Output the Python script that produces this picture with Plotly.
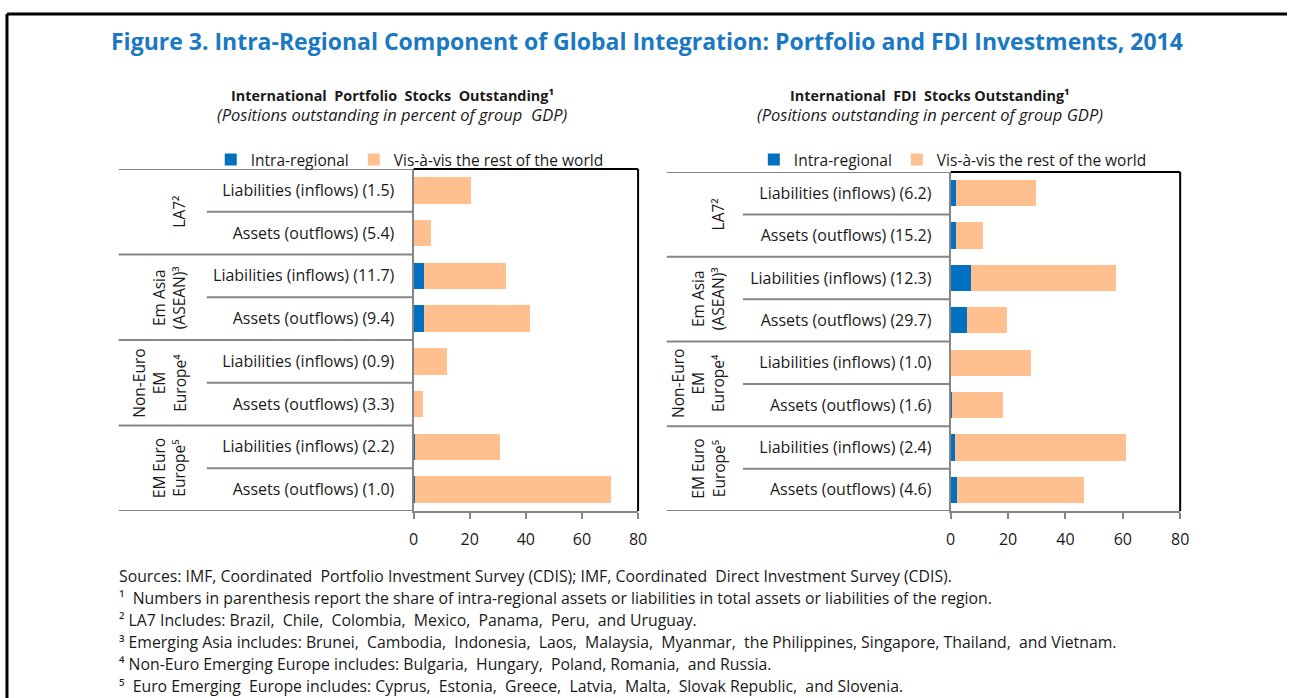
import plotly.graph_objects as go

W, H = 1296, 698
def px(x): return x / W
def py(y): return 1 - y / H

# ---------------- data ----------------
left_categories = [
    "Liabilities (inflows) (1.5)", "Assets (outflows) (5.4)",
    "Liabilities (inflows) (11.7)", "Assets (outflows) (9.4)",
    "Liabilities (inflows) (0.9)", "Assets (outflows) (3.3)",
    "Liabilities (inflows) (2.2)", "Assets (outflows) (1.0)",
]
left_intra = [0.3, 0.33, 3.9, 3.9, 0.1, 0.11, 0.68, 0.7]
left_rest = [20.0, 5.9, 29.1, 37.5, 11.7, 3.3, 30.1, 69.6]

right_categories = [
    "Liabilities (inflows) (6.2)", "Assets (outflows) (15.2)",
    "Liabilities (inflows) (12.3)", "Assets (outflows) (29.7)",
    "Liabilities (inflows) (1.0)", "Assets (outflows) (1.6)",
    "Liabilities (inflows) (2.4)", "Assets (outflows) (4.6)",
]
right_intra = [1.85, 1.72, 7.1, 5.8, 0.28, 0.29, 1.47, 2.13]
right_rest = [28.0, 9.6, 50.5, 13.8, 27.7, 17.9, 59.6, 44.3]

group_labels = ["LA7²", "Em Asia<br>(ASEAN)³", "Non-Euro<br>EM<br>Europe⁴", "EM Euro<br>Europe⁵"]
series_names = ["Intra-regional", "Vis-à-vis the rest of the world"]
x_ticks = [0, 20, 40, 60, 80]

title = "Figure 3. Intra-Regional Component of Global Integration: Portfolio and FDI Investments, 2014"
left_title = "International  Portfolio  Stocks  Outstanding¹"
right_title = "International  FDI  Stocks Outstanding¹"
left_sub = "(Positions outstanding in percent of group  GDP)"
right_sub = "(Positions outstanding in percent of group GDP)"
footnotes = [
    "Sources: IMF, Coordinated  Portfolio Investment Survey (CDIS); IMF, Coordinated  Direct Investment Survey (CDIS).",
    "¹  Numbers in parenthesis report the share of intra-regional assets or liabilities in total assets or liabilities of the region.",
    "² LA7 Includes: Brazil,  Chile,  Colombia,  Mexico,  Panama,  Peru,  and Uruguay.",
    "³ Emerging Asia includes: Brunei,  Cambodia,  Indonesia,  Laos,  Malaysia,  Myanmar,  the Philippines, Singapore, Thailand,  and Vietnam.",
    "⁴ Non-Euro Emerging Europe includes: Bulgaria,  Hungary,  Poland, Romania,  and Russia.",
    "⁵  Euro Emerging  Europe includes: Cyprus,  Estonia,  Greece,  Latvia,  Malta,  Slovak Republic,  and Slovenia.",
]

# ---------------- style ----------------
FONT = "'Open Sans', Lato, sans-serif"
BLUE = "#0070C0"
ORANGE = "#FFBF8F"
GRAY = "#868686"
TXT = "#1a1a1a"
LBL = 16
LEG = 15.5

fig = go.Figure()

panels = [
    dict(cats=left_categories, intra=left_intra, rest=left_rest, xa="x", ya="y",
         legend="legend", x0=413, x1=640, top=169, bot=511, long_x=115, short_x=204,
         grp_x=189, title_x=392, title=left_title, sub=left_sub, leg_x=208),
    dict(cats=right_categories, intra=right_intra, rest=right_rest, xa="x2", ya="y2",
         legend="legend2", x0=956, x1=1188, top=172, bot=511, long_x=669, short_x=746,
         grp_x=734, title_x=935, title=right_title, sub=right_sub, leg_x=757),
]

shapes = []
annotations = []

for i, p in enumerate(panels):
    fig.add_trace(go.Bar(y=p["cats"], x=p["intra"], orientation="h", name=series_names[0],
                         marker=dict(color=BLUE, line=dict(width=0)),
                         xaxis=p["xa"], yaxis=p["ya"], legend=p["legend"]))
    fig.add_trace(go.Bar(y=p["cats"], x=p["rest"], orientation="h", name=series_names[1],
                         marker=dict(color=ORANGE, line=dict(width=0)),
                         xaxis=p["xa"], yaxis=p["ya"], legend=p["legend"]))
    sfx = "" if i == 0 else "2"
    fig.update_layout(**{
        "xaxis" + sfx: dict(domain=[px(p["x0"]), px(p["x1"])], range=[0, 80], tickvals=x_ticks,
                            showgrid=False, zeroline=False, showline=True, linecolor=GRAY,
                            linewidth=2, ticks="outside", ticklen=6, tickwidth=2, tickcolor=GRAY,
                            ticklabelstandoff=7,
                            tickfont=dict(size=LBL, color=TXT, family=FONT),
                            anchor="y" + sfx, fixedrange=True),
        "yaxis" + sfx: dict(domain=[py(p["bot"]), py(p["top"])], type="category",
                            categoryorder="array", categoryarray=p["cats"],
                            range=[7.5, -0.5], showgrid=False, zeroline=False,
                            showline=True, linecolor=GRAY, linewidth=2, ticks="",
                            ticklabelstandoff=14,
                            tickfont=dict(size=LBL, color=TXT, family=FONT),
                            anchor="x" + sfx, fixedrange=True),
        p["legend"]: dict(orientation="h", x=px(p["leg_x"]), y=py(143), xanchor="left",
                          yanchor="top", font=dict(size=LEG, color=TXT, family=FONT),
                          itemwidth=30, bgcolor="rgba(0,0,0,0)",
                          traceorder="normal", tracegroupgap=0),
    })
    # plot area top / right border
    shapes.append(dict(type="line", xref=p["xa"] + " domain", yref=p["ya"] + " domain",
                       x0=0, x1=1, y0=1, y1=1, line=dict(color="black", width=2)))
    shapes.append(dict(type="line", xref=p["xa"] + " domain", yref=p["ya"] + " domain",
                       x0=1, x1=1, y0=0, y1=1, line=dict(color="black", width=2)))
    # category separators
    for k in range(9):
        yv = k - 0.5
        xs = p["long_x"] if k % 2 == 0 else p["short_x"]
        shapes.append(dict(type="line", xref="paper", yref=p["ya"], x0=px(xs), x1=px(p["x0"]),
                           y0=yv, y1=yv, line=dict(color=GRAY, width=2)))
    # group labels
    for g, lab in enumerate(group_labels):
        annotations.append(dict(text=lab, xref="paper", yref=p["ya"], x=px(p["grp_x"]),
                                y=2 * g + 0.5, xanchor="right", yanchor="middle",
                                textangle=-90, showarrow=False,
                                font=dict(size=LEG, color=TXT, family=FONT)))
    # panel titles
    annotations.append(dict(text="<b>" + p["title"] + "</b>", xref="paper", yref="paper",
                            x=px(p["title_x"]), y=py(95), xanchor="center", yanchor="middle",
                            showarrow=False, font=dict(size=14.4, color=TXT, family=FONT)))
    annotations.append(dict(text="<i>" + p["sub"] + "</i>", xref="paper", yref="paper",
                            x=px(p["title_x"]), y=py(114), xanchor="center", yanchor="middle",
                            showarrow=False, font=dict(size=16.5, color=TXT, family=FONT)))

# main title
annotations.append(dict(text="<b>" + title + "</b>", xref="paper", yref="paper",
                        x=px(649), y=py(41), xanchor="center", yanchor="middle",
                        showarrow=False, font=dict(size=23, color="#1B78C2", family=FONT)))

# footnotes
foot_y = [576, 598, 620, 642, 664, 686]
for t, yy in zip(footnotes, foot_y):
    annotations.append(dict(text=t, xref="paper", yref="paper", x=px(113), y=py(yy),
                            xanchor="left", yanchor="middle", showarrow=False,
                            font=dict(size=15.8, color=TXT, family=FONT)))

# outer frame
shapes.append(dict(type="line", xref="paper", yref="paper", x0=px(2), x1=1.0,
                   y0=py(14), y1=py(14), line=dict(color="black", width=3)))
shapes.append(dict(type="line", xref="paper", yref="paper", x0=px(2), x1=px(2),
                   y0=py(14), y1=0, line=dict(color="black", width=3)))

fig.update_layout(width=W, height=H, margin=dict(l=0, r=0, t=0, b=0),
                  barmode="stack", bargap=0.38, plot_bgcolor="white", paper_bgcolor="white",
                  shapes=shapes, annotations=annotations, showlegend=True,
                  font=dict(family=FONT, color=TXT))

fig.write_html("out.html", config={"displayModeBar": False},
               post_script="document.body.style.margin='0';document.body.style.overflow='hidden';")
